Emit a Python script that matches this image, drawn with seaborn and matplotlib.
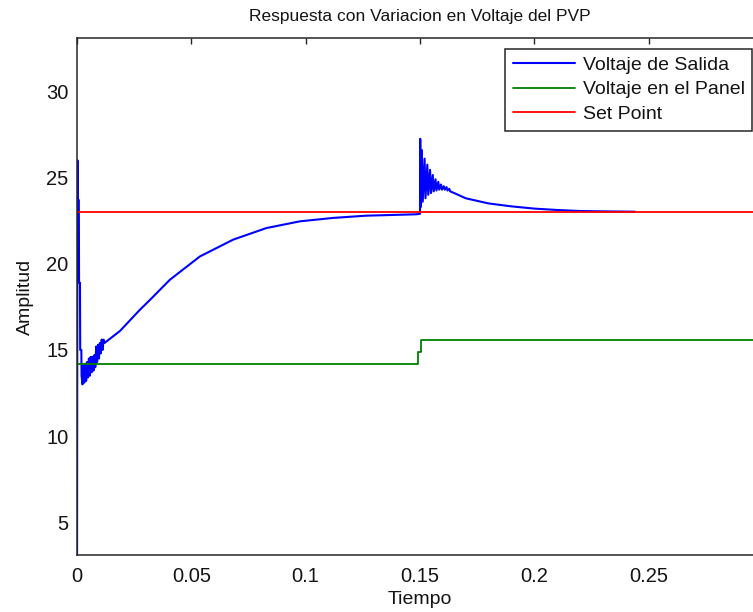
import numpy as np
import pandas as pd
import seaborn as sns
import matplotlib.pyplot as plt

# valores (tiempo en s, amplitud en V)
t_salida = [0.0, 0.0002, 0.0003, 0.0008, 0.0009, 0.0013, 0.0014, 0.0019, 0.0020,
            0.0024, 0.0028, 0.0032, 0.0036, 0.0040, 0.0044, 0.0048, 0.0052, 0.0056,
            0.0060, 0.0064, 0.0068, 0.0072, 0.0076, 0.0080, 0.0084, 0.0088, 0.0092,
            0.0096, 0.0100, 0.0104, 0.0108, 0.0112, 0.0116, 0.0120, 0.0188, 0.0275,
            0.0319, 0.0406, 0.0537, 0.0683, 0.0828, 0.0974, 0.112, 0.1265, 0.1483,
            0.1500,
            0.1501, 0.1504, 0.1508, 0.1512, 0.1520, 0.1524, 0.1532, 0.1536, 0.1544,
            0.1548, 0.1556, 0.1560, 0.1568, 0.1572, 0.1580, 0.1584, 0.1592, 0.1596,
            0.1604, 0.1608, 0.1616, 0.1620, 0.1628, 0.1632, 0.1650, 0.1700, 0.1800,
            0.1900, 0.2000, 0.2100, 0.2200, 0.2300, 0.2440]
v_salida = [0.0, 26.0, 23.7, 23.7, 18.9, 18.9, 15.0, 15.0, 13.5,
            13.0, 14.1, 13.1, 14.2, 13.2, 14.3, 13.4, 14.5, 13.5,
            14.6, 13.7, 14.6, 13.8, 14.7, 14.0, 15.2, 14.3, 15.3,
            14.5, 15.4, 14.8, 15.6, 15.0, 15.6, 15.4, 16.1, 17.33,
            17.9, 19.07, 20.42, 21.40, 22.07, 22.46, 22.66, 22.79, 22.87,
            22.9,
            27.25, 23.3, 26.6, 23.6, 26.1, 23.8, 25.75, 24.0, 25.45,
            24.1, 25.15, 24.2, 24.9, 24.25, 24.75, 24.3, 24.6, 24.3,
            24.5, 24.3, 24.45, 24.25, 24.35, 24.2, 24.1, 23.8, 23.5,
            23.33, 23.2, 23.12, 23.06, 23.04, 23.02]

t_panel = [0.0, 0.1490, 0.1490, 0.1505, 0.1505, 0.3]
v_panel = [14.2, 14.2, 14.9, 14.9, 15.6, 15.6]

t_setpoint = [0.0, 0.3]
v_setpoint = [23.0, 23.0]

x_ticks = [0, 0.05, 0.1, 0.15, 0.2, 0.25]
x_tick_labels = ['0', '0.05', '0.1', '0.15', '0.2', '0.25']
y_ticks = [5, 10, 15, 20, 25, 30]

sns.set_theme(style="white")
plt.rcParams['font.family'] = ['Liberation Sans', 'DejaVu Sans']
plt.rcParams['text.color'] = '#141414'

fig = plt.figure(figsize=(7.53, 6.12), dpi=100)
ax = fig.add_axes([77 / 753, 57 / 612, (763 - 77) / 753, (555 - 38) / 612])

sns.lineplot(x=t_salida, y=v_salida, ax=ax, color='#0000ff', lw=1.5,
             estimator=None, sort=False, label='Voltaje de Salida')
sns.lineplot(x=t_panel, y=v_panel, ax=ax, color='#008000', lw=1.3,
             estimator=None, sort=False, label='Voltaje en el Panel')
sns.lineplot(x=t_setpoint, y=v_setpoint, ax=ax, color='#ff0000', lw=1.3,
             estimator=None, sort=False, label='Set Point')

ax.set_xlim(0, 0.3)
ax.set_ylim(3.1, 33.1)
ax.set_xticks(x_ticks)
ax.set_xticklabels(x_tick_labels)
ax.set_yticks(y_ticks)
ax.tick_params(direction='in', length=4.3, width=1, top=True, right=True,
               labelsize=14.5, colors='#262626', labelcolor='#141414')
ax.tick_params(axis='x', pad=9)
ax.tick_params(axis='y', pad=6)
for s in ax.spines.values():
    s.set_color('#262626')
    s.set_linewidth(1.1)

ax.set_title('Respuesta con Variacion en Voltaje del PVP', fontsize=12.5, pad=12,
             color='#141414')
ax.set_xlabel('Tiempo', fontsize=14, labelpad=3, color='#141414')
ax.set_ylabel('Amplitud', fontsize=14, labelpad=9, color='#141414')

leg = ax.legend(loc='upper right', fontsize=14, frameon=True, fancybox=False,
                edgecolor='#262626', framealpha=1, handlelength=3.2,
                handletextpad=0.4, labelspacing=0.35, borderpad=0.4,
                borderaxespad=0.55)
leg.get_frame().set_linewidth(1.1)
for txt in leg.get_texts():
    txt.set_color('#141414')

fig.savefig('out.png', dpi=100)
